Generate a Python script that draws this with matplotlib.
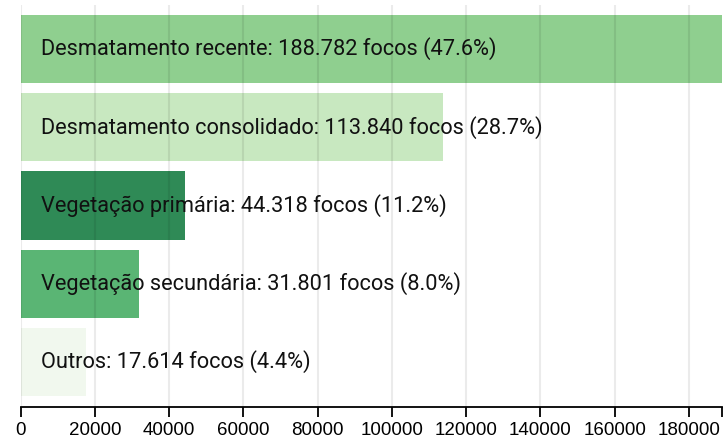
import matplotlib.pyplot as plt
from matplotlib.ticker import FixedLocator

categorias = ["Desmatamento recente", "Desmatamento consolidado", "Vegetação primária",
              "Vegetação secundária", "Outros"]
focos = [188782, 113840, 44318, 31801, 17614]
percentuais = [47.6, 28.7, 11.2, 8.0, 4.4]
cores = ["#8fcf8f", "#c8e8c0", "#2f8a56", "#5ab574", "#f1f8ee"]
xticks = [0, 20000, 40000, 60000, 80000, 100000, 120000, 140000, 160000, 180000]

W, H = 723, 438
fig = plt.figure(figsize=(W / 100, H / 100), dpi=100)
ax = fig.add_axes([20.75 / W, (H - 407) / H, (721.6 - 20.75) / W, (407 - 5) / H])

pos = list(range(len(categorias)))
ax.barh(pos, focos, height=0.87, color=cores, zorder=1)

for i, (c, v, p) in enumerate(zip(categorias, focos, percentuais)):
    txt = f"{c}: {v:,} focos ({p:.1f}%)".replace(",", ".")
    ax.annotate(txt, xy=(0, i), xytext=(14.5, 0), textcoords="offset points",
                va="center", ha="left", fontsize=15.7, family="Roboto",
                color="#111111", zorder=3)

ax.set_xlim(0, max(focos))
ax.set_ylim(4.575, -0.562)
ax.set_xticks(xticks)
ax.set_xticklabels([str(t) for t in xticks], family="Liberation Sans", fontsize=13.5)
ax.xaxis.set_minor_locator(FixedLocator([max(focos)]))
ax.tick_params(axis="x", which="both", length=7.5, width=1.3, color="black", pad=3)
ax.set_yticks([])
ax.grid(axis="x", color="black", alpha=0.08, linewidth=1.5, zorder=2)
ax.set_axisbelow(False)
for s in ["left", "right", "top"]:
    ax.spines[s].set_visible(False)
ax.spines["bottom"].set_linewidth(1.3)
ax.spines["bottom"].set_zorder(4)

fig.savefig("out.png", dpi=100)
